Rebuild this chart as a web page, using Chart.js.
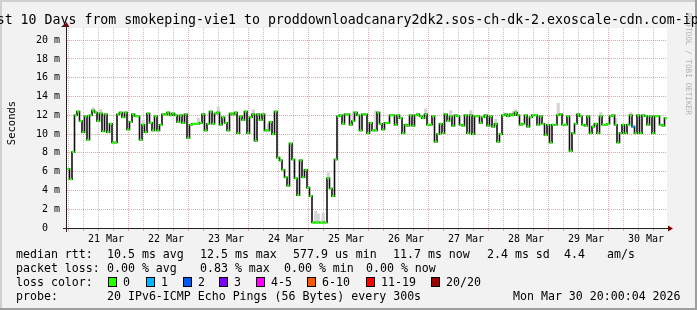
<!DOCTYPE html>
<html>
<head>
<meta charset="utf-8">
<title>Smokeping - last 10 days</title>
<script src="https://cdn.jsdelivr.net/npm/chart.js"></script>
<style>
  html, body { margin: 0; padding: 0; background: #f2f2f2; }
  canvas { display: block; }
</style>
</head>
<body>
<canvas id="smokeChart" width="697" height="310"></canvas>
<script>
// =====================================================
// Smokeping 10-day graph, redrawn with Chart.js
// =====================================================

// -----------------------------------------------------
// Data
// -----------------------------------------------------
const chartTitle = "Last 10 Days from smokeping-vie1 to proddownloadcanary2dk2.sos-ch-dk-2.exoscale-cdn.com-ipv6";
const dayLabels = ["21 Mar", "22 Mar", "23 Mar", "24 Mar", "25 Mar", "26 Mar", "27 Mar", "28 Mar", "29 Mar", "30 Mar"];
const yTickValues = [0, 1, 2, 3, 4, 5, 6, 7, 8, 9, 10, 11, 12, 13, 14, 15, 16, 17, 18, 19, 20, 21];

// hours from 21 Mar 00:00, one sample per hour
const firstHour = -3.1;
const xMin = -3.6;
const xMax = 236.4;

// median rtt per hour (ms)
const median = [
  6.3, 5.2, 8.1, 12.0, 12.4, 11.4, 10.2, 11.9, 9.4, 12.0, 12.5, 12.3, 11.4, 12.2, 10.3, 12.1, 10.2, 11.1, 9.1, 9.1,
  12.1, 12.3, 11.8, 12.3, 10.5, 11.3, 12.1, 11.9, 11.9, 9.4, 11.0, 10.2, 12.2, 11.2, 10.4, 11.9, 10.4, 11.0, 12.1, 12.1,
  12.3, 12.0, 12.2, 12.0, 11.3, 12.0, 11.2, 12.1, 9.6, 11.0, 11.1, 11.1, 11.1, 11.2, 12.1, 10.4, 11.1, 12.4, 11.1, 12.2,
  12.3, 11.0, 11.8, 11.2, 10.4, 12.2, 12.1, 12.3, 10.1, 11.9, 11.5, 12.4, 10.1, 11.8, 12.1, 9.3, 12.1, 11.5, 12.1, 10.4,
  10.4, 11.3, 10.0, 12.4, 7.5, 7.2, 6.2, 5.4, 4.5, 9.0, 7.3, 5.3, 3.5, 7.2, 5.4, 6.2, 4.3, 3.4, 0.58, 0.58,
  0.58, 0.58, 0.58, 0.58, 5.3, 4.2, 3.4, 7.3, 11.9, 12.0, 11.1, 12.1, 12.1, 11.0, 11.4, 12.3, 12.0, 10.4, 12.1,
  12.1, 10.1, 11.2, 10.4, 10.4, 12.3, 11.1, 10.5, 11.2, 11.2, 12.0, 12.0, 11.0, 12.0, 11.7, 10.1, 11.0, 10.9, 12.0, 10.9,
  12.0, 12.1, 11.9, 11.7, 12.1, 11.0, 11.0, 11.9, 9.2, 10.0, 11.1, 10.1, 12.1, 11.4, 11.9, 10.9, 12.0, 11.9, 11.0, 10.9,
  12.0, 10.1, 12.0, 10.0, 11.9, 11.9, 11.2, 11.8, 12.0, 10.9, 11.9, 10.8, 11.1, 9.2, 10.0, 12.0, 12.1, 11.9, 12.1, 12.0,
  12.3,
  12.0, 11.0, 11.1, 12.0, 10.8, 11.8, 12.0, 12.0, 11.0, 11.9, 11.1, 9.9, 11.0, 9.1, 11.0, 11.0, 12.0, 12.1, 11.0, 11.0,
  11.9, 8.2, 10.1, 11.1, 12.1, 11.9, 11.0, 10.9, 11.9, 10.1, 10.8, 11.1, 10.1, 11.9, 11.0, 11.0, 11.1, 11.9, 12.0, 11.0,
  9.1, 10.1, 11.0, 10.1, 11.0, 12.0, 10.8, 10.1, 12.0, 10.1, 12.0, 11.9, 11.0, 11.9, 10.1, 11.9, 11.9, 11.0, 10.9, 11.7
];

// smoke (spread of the pings) where it shows above the median
const smokeAt  = [10, 13, 30, 52, 60, 74, 80, 99, 100, 102, 104, 114, 123, 143, 153, 161, 171, 178, 179, 196, 213, 219, 225];
const smokeTop = [12.8, 12.6, 11.5, 11.7, 12.9, 12.6, 11.1, 1.8, 1.5, 1.6, 5.9, 12.4, 12.5, 12.7, 12.5, 12.5, 11.6, 12.4, 12.6, 13.3, 12.3, 11.7, 12.3];

// hours with lost pings (out of 20)
const lossAt = [226];
const lossCount = [1];

const lossLabels = ["0", "1", "2", "3", "4-5", "6-10", "11-19", "20/20"];
const lossColors = ["#26ff00", "#00b8ff", "#0059ff", "#7e00ff", "#ff00ff", "#ff5500", "#ff0000", "#a10000"];

const rttStats = ["10.5 ms avg", "12.5 ms max", "577.9 us min", "11.7 ms now", "2.4 ms sd", "4.4", "am/s"];
const lossStats = ["0.00 % avg", "0.83 % max", "0.00 % min", "0.00 % now"];
const probeText = "20 IPv6-ICMP Echo Pings (56 Bytes) every 300s";
const stampText = "Mon Mar 30 20:00:04 2026";

// -----------------------------------------------------
// Style
// -----------------------------------------------------
const MONO = '"DejaVu Sans Mono", monospace';
const GRID = "rgba(143,143,143,0.5)";
const MGRID = "rgba(222,79,79,0.5)";

const lossBucket = (n) => {
  if (n <= 3) return n;
  if (n <= 5) return 4;
  if (n <= 10) return 5;
  if (n <= 19) return 6;
  return 7;
};

const pointColors = median.map((v, i) => {
  const k = lossAt.indexOf(i);
  return lossColors[k < 0 ? 0 : lossBucket(lossCount[k])];
});

// background, frame, axes and all the rrdtool texts
const rrdFrame = {
  id: "rrdFrame",
  beforeDraw(chart) {
    const { ctx, chartArea: a } = chart;
    ctx.save();
    ctx.fillStyle = "#f2f2f2";
    ctx.fillRect(0, 0, chart.width, chart.height);
    ctx.fillStyle = "#cfcfcf";
    ctx.fillRect(0, 0, chart.width, 2);
    ctx.fillRect(0, 0, 2, chart.height);
    ctx.fillStyle = "#9e9e9e";
    ctx.fillRect(0, chart.height - 2, chart.width, 2);
    ctx.fillRect(chart.width - 2, 0, 2, chart.height);
    ctx.fillStyle = "#ffffff";
    ctx.fillRect(a.left, a.top, a.right - a.left, a.bottom - a.top);
    ctx.restore();
  },
  afterDraw(chart) {
    const { ctx, chartArea: a } = chart;
    const ax = a.left - 0.5;
    const ay = a.bottom + 0.5;
    ctx.save();

    // axes + arrows
    ctx.strokeStyle = "#212121";
    ctx.lineWidth = 1;
    ctx.beginPath();
    ctx.moveTo(a.left - 4, ay);
    ctx.lineTo(a.right + 2, ay);
    ctx.moveTo(ax, a.bottom + 4);
    ctx.lineTo(ax, a.top - 2);
    ctx.stroke();
    ctx.fillStyle = "#800000";
    ctx.beginPath();
    ctx.moveTo(a.right + 1, ay - 3);
    ctx.lineTo(a.right + 6, ay);
    ctx.lineTo(a.right + 1, ay + 3);
    ctx.closePath();
    ctx.fill();
    ctx.beginPath();
    ctx.moveTo(ax - 3, a.top - 1);
    ctx.lineTo(ax, a.top - 6);
    ctx.lineTo(ax + 3, a.top - 1);
    ctx.closePath();
    ctx.fill();

    // title
    ctx.fillStyle = "#000";
    ctx.textBaseline = "alphabetic";
    ctx.textAlign = "left";
    ctx.font = "13.25px " + MONO;
    ctx.fillText(chartTitle, -19.3, 24);

    // unit label
    ctx.save();
    ctx.translate(12, 123);
    ctx.rotate(-Math.PI / 2);
    ctx.font = "10.5px " + MONO;
    ctx.textAlign = "center";
    ctx.textBaseline = "middle";
    ctx.fillText("Seconds", 0, 0);
    ctx.restore();

    // watermark
    ctx.save();
    ctx.translate(688, 13);
    ctx.rotate(Math.PI / 2);
    ctx.font = "7.7px " + MONO;
    ctx.fillStyle = "rgba(0,0,0,0.3)";
    ctx.textBaseline = "middle";
    ctx.fillText("RRDTOOL / TOBI OETIKER", 0, 0);
    ctx.restore();

    // legend lines
    ctx.font = "11.6px " + MONO;
    ctx.fillStyle = "#000";
    ctx.fillText("median rtt:", 16, 258);
    [107, 200, 293, 393, 487, 564, 607].forEach((x, i) => ctx.fillText(rttStats[i], x, 258));
    ctx.fillText("packet loss:", 16, 272);
    [107, 200, 284, 366].forEach((x, i) => ctx.fillText(lossStats[i], x, 272));
    ctx.fillText("loss color:", 16, 286);
    [108, 146, 183, 219, 256, 307, 366, 431].forEach((x, i) => {
      ctx.fillStyle = lossColors[i];
      ctx.fillRect(x, 277, 8, 9);
      ctx.strokeStyle = "#000";
      ctx.strokeRect(x + 0.5, 277.5, 8, 9);
      ctx.fillStyle = "#000";
      ctx.fillText(lossLabels[i], x + 15, 286);
    });
    ctx.fillText("probe:", 16, 300);
    ctx.fillText(probeText, 107, 300);
    ctx.fillText(stampText, 513, 300);

    ctx.restore();
  }
};

// -----------------------------------------------------
// Chart
// -----------------------------------------------------
new Chart(document.getElementById("smokeChart"), {
  type: "line",
  data: {
    datasets: [
      {
        type: "line",
        label: "median rtt",
        data: median.map((v, i) => ({ x: firstHour + i, y: v })),
        stepped: "middle",
        borderColor: "#111111",
        borderWidth: 1.6,
        pointStyle: "line",
        pointRadius: 1.25,
        pointBorderWidth: 2.2,
        pointBorderColor: pointColors,
        pointBackgroundColor: pointColors,
        order: 0
      },
      {
        type: "bar",
        label: "smoke",
        data: smokeAt.map((i, k) => ({ x: firstHour + i, y: [median[i], smokeTop[k]] })),
        backgroundColor: "#d4d4d4",
        borderWidth: 0,
        categoryPercentage: 1,
        barPercentage: 1,
        grouped: false,
        order: 1
      }
    ]
  },
  options: {
    responsive: false,
    animation: false,
    events: [],
    layout: { padding: { left: 0, right: 30, top: 28, bottom: 0 } },
    plugins: { legend: { display: false }, tooltip: { enabled: false } },
    scales: {
      x: {
        type: "linear",
        min: xMin,
        max: xMax,
        offset: false,
        afterFit: (s) => { s.height = 82; },
        afterBuildTicks: (s) => {
          const t = [];
          for (let h = 0; h <= xMax; h += 6) t.push({ value: h });
          s.ticks = t;
        },
        grid: {
          color: (c) => (c.tick && c.tick.value % 24 === 0 ? MGRID : GRID),
          lineWidth: 1,
          drawTicks: true,
          tickLength: 3,
          tickBorderDash: []
        },
        border: { display: false, dash: [1, 1] },
        ticks: {
          autoSkip: false,
          maxRotation: 0,
          padding: 2,
          color: "#000",
          font: { family: MONO, size: 10 },
          callback: (v) => (v % 24 === 12 ? dayLabels[(v - 12) / 24] : "")
        }
      },
      y: {
        min: 0,
        max: 21.3,
        afterFit: (s) => { s.width = 67; },
        afterBuildTicks: (s) => { s.ticks = yTickValues.map((v) => ({ value: v })); },
        grid: {
          color: (c) => (c.tick && c.tick.value % 2 === 0 ? MGRID : GRID),
          lineWidth: 1,
          drawTicks: false
        },
        border: { display: false, dash: [1, 1] },
        ticks: {
          padding: 7,
          color: "#000",
          font: { family: MONO, size: 10 },
          callback: (v) => (v % 2 ? "" : v === 0 ? "0  " : v + " m")
        }
      }
    }
  },
  plugins: [rrdFrame]
});
</script>
</body>
</html>
